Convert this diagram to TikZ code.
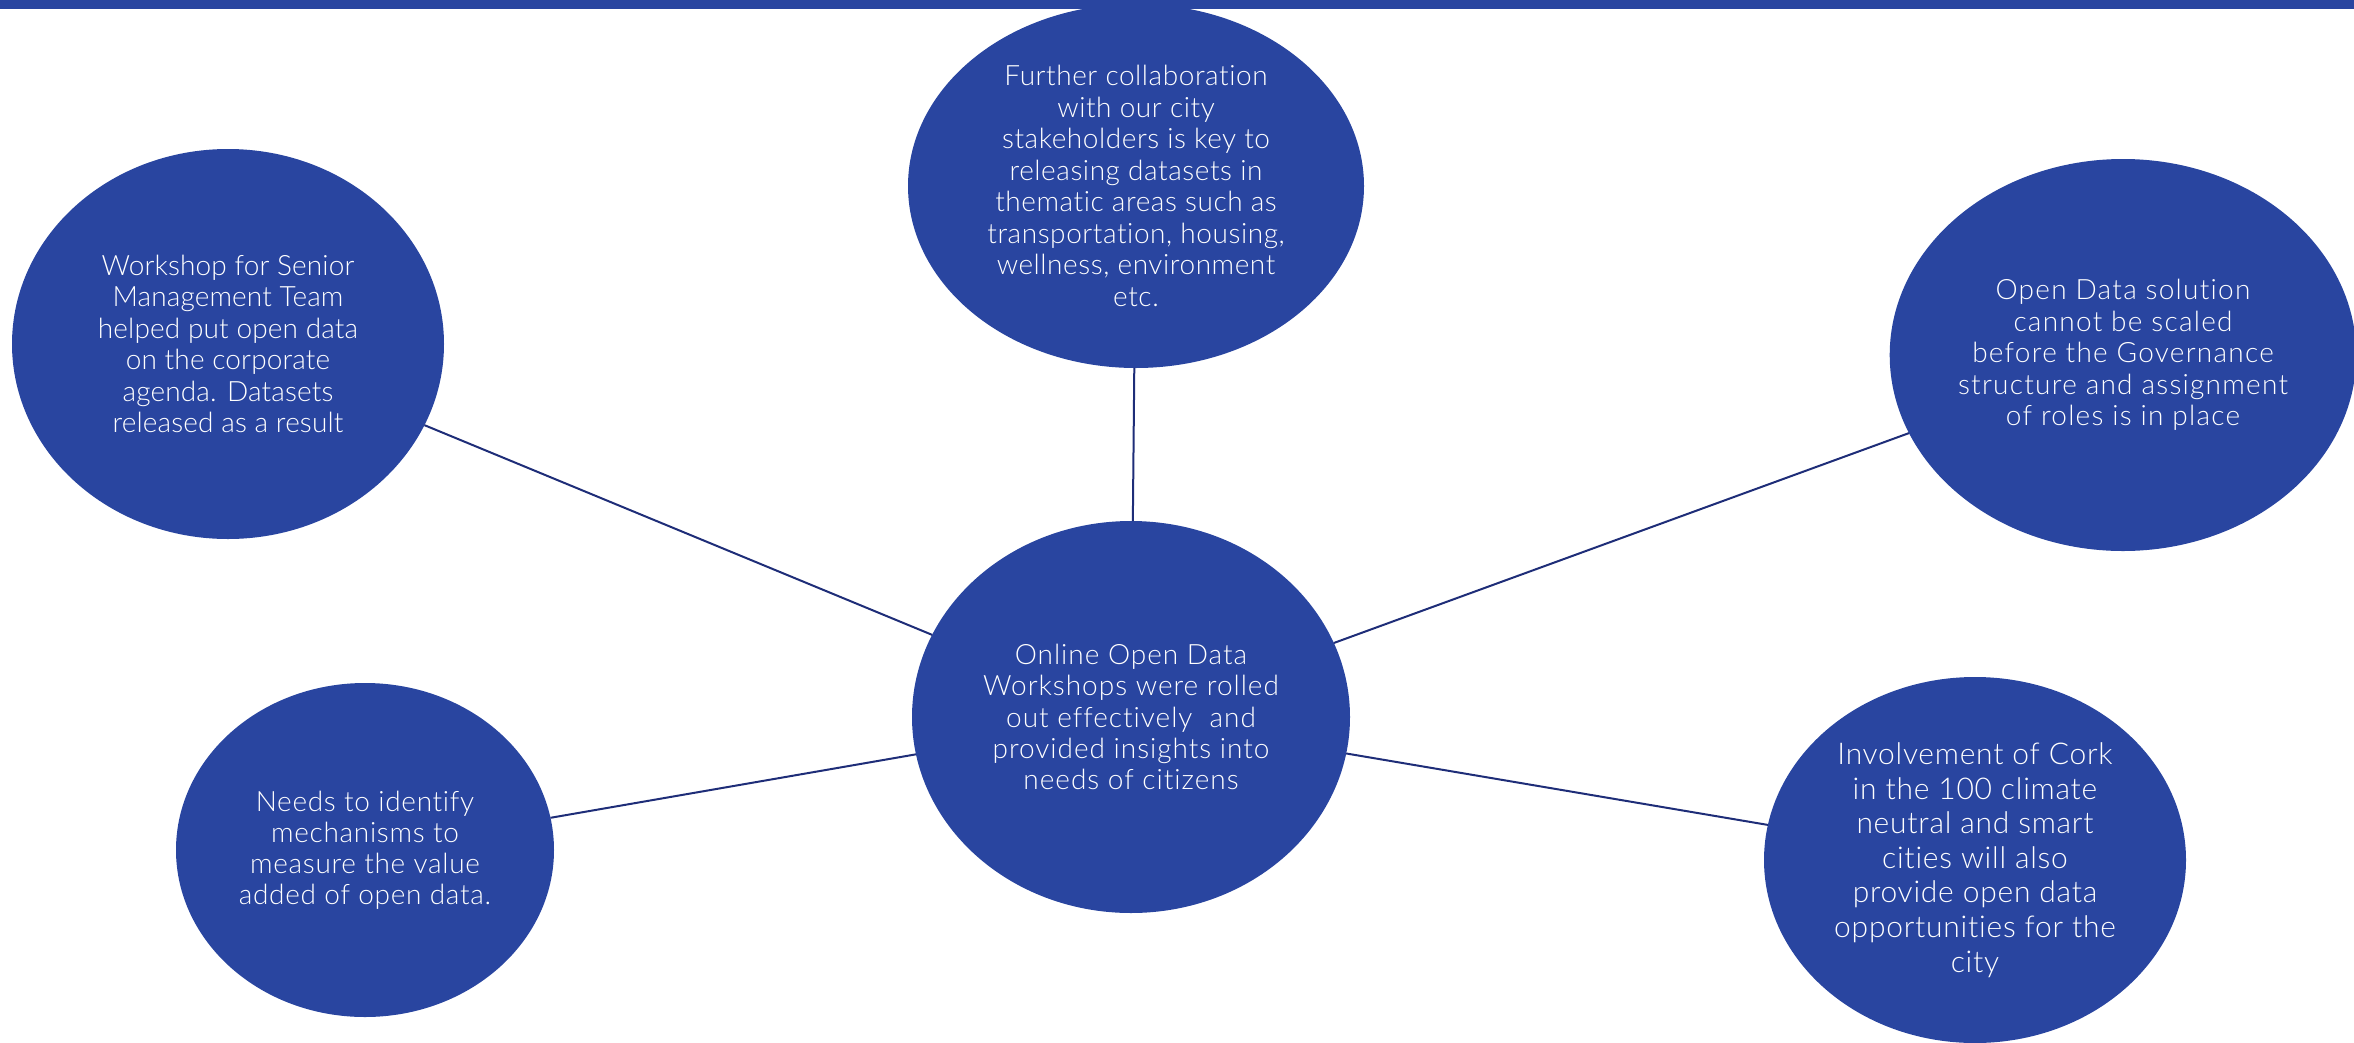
\documentclass[tikz,border=0pt]{standalone}
\usepackage{fontspec}
\setmainfont{Lato Light}[Ligatures=NoCommon]
\usetikzlibrary{shapes.geometric}
\definecolor{bubblue}{RGB}{41,69,160}
\definecolor{linkblue}{RGB}{30,45,120}
\newcommand{\bfnt}[3]{\fontsize{#1}{#2}\selectfont\addfontfeature{LetterSpace=#3}}
\tikzset{
  bubble/.style={ellipse, fill=bubblue, draw=none, inner sep=0pt, outer sep=0pt,
    text=white, align=center},
  link/.style={draw=linkblue, line width=2pt}
}
\begin{document}
\begin{tikzpicture}[x=1pt,y=-1pt]
\useasboundingbox (0,0) rectangle (2354,1042);
\fill[bubblue] (0,0) rectangle (2354,9);
\node[bubble, minimum width=432pt, minimum height=390pt, font=\bfnt{28}{31.5}{0.5}] (e1) at (228,344)
  {Workshop for Senior\\Management Team\\helped put open data\\on the corporate\\agenda. Datasets\\released as a result};
\node[bubble, minimum width=456pt, minimum height=364pt, font=\bfnt{28}{31.5}{2}] (e2) at (1136,186)
  {Further collaboration\\with our city\\stakeholders is key to\\releasing datasets in\\thematic areas such as\\transportation, housing,\\wellness, environment\\etc.};
\node[bubble, minimum width=454pt, minimum height=392pt, font=\bfnt{28}{31.5}{4.5}] (e3) at (2123,355)
  {Open Data solution\\cannot be scaled\\before the Governance\\structure and assignment\\of roles is in place};
\node[bubble, minimum width=438pt, minimum height=392pt, font=\bfnt{28}{31.2}{3.5}] (e4) at (1131,717)
  {Online Open Data\\Workshops were rolled\\out effectively \ and\\provided insights into\\needs of citizens};
\node[bubble, minimum width=378pt, minimum height=334pt, font=\bfnt{28}{31}{2.5}] (e5) at (365,850)
  {Needs to identify\\mechanisms to\\measure the value\\added of open data.};
\node[bubble, minimum width=422pt, minimum height=366pt, font=\bfnt{30}{34.6}{2.5}] (e6) at (1975,860)
  {Involvement of Cork\\in the 100 climate\\neutral and smart\\cities will also\\provide open data\\opportunities for the\\city};
\draw[link] (e1) -- (e4);
\draw[link] (e2) -- (e4);
\draw[link] (e3) -- (e4);
\draw[link] (e5) -- (e4);
\draw[link] (e6) -- (e4);
\end{tikzpicture}
\end{document}
